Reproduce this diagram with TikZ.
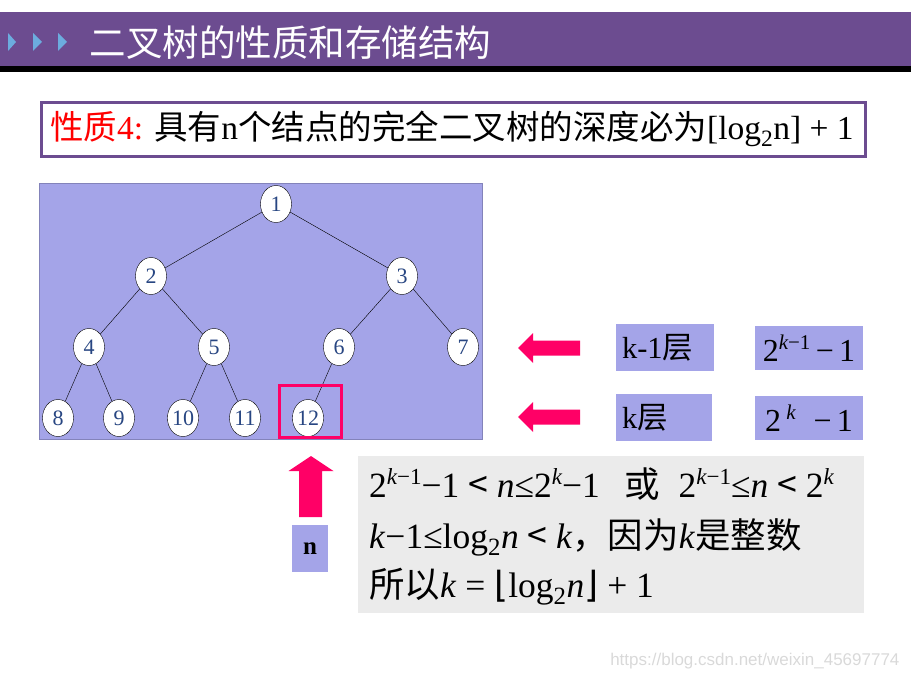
\documentclass[tikz,border=0pt]{standalone}
\usepackage{fontspec}
\setmainfont{Liberation Serif}
\newfontfamily\cjk{Noto Sans CJK SC}
\newfontfamily\symfont{DejaVu Sans}
\newfontfamily\wmfont{Liberation Sans}
\newcommand{\zhtext}[1]{{\cjk #1}}
\newcommand{\supk}[1]{\raisebox{13pt}{\fontsize{23}{23}\selectfont #1}}
\usepackage{tikz}
\usetikzlibrary{shapes.geometric}

\definecolor{barpurple}{RGB}{108,76,144}
\definecolor{lavender}{RGB}{164,164,232}
\definecolor{hotpink}{RGB}{255,0,102}
\definecolor{lightgrey}{RGB}{235,235,235}
\definecolor{tribue}{RGB}{108,172,222}
\definecolor{numblue}{RGB}{40,70,130}

\begin{document}
\begin{tikzpicture}[x=1pt,y=-1pt,
    tnode/.style={ellipse,draw,fill=white,minimum width=31,minimum height=37,inner sep=0pt,
      text=numblue,font=\fontsize{22}{22}\selectfont},
    lbox/.style={fill=lavender,inner sep=0pt,font=\fontsize{30.5}{32}\selectfont}]
    \useasboundingbox (0,0) rectangle (911,677);

    % Title bar
    \fill[barpurple] (0,12) rectangle (911,66);
    \fill[black] (0,66) rectangle (911,72);
    \fill[tribue] (8,33) -- (16,42) -- (8,51) -- cycle;
    \fill[tribue] (33,33) -- (42,42) -- (33,51) -- cycle;
    \fill[tribue] (58,33) -- (67,42) -- (58,51) -- cycle;
    \node[anchor=west,text=white,font=\cjk\fontsize{36.5}{36}\selectfont] (title) at (86,43) {二叉树的性质和存储结构};

    % Property
    \node[draw=barpurple,line width=3pt,minimum width=824,minimum height=54,anchor=north west] (prop) at (39.5,101) {};
    \node[anchor=west,inner sep=0pt,font=\fontsize{33.5}{34}\selectfont] (proptext) at (50,129)
      {{\color{red}\zhtext{性质}4:} \zhtext{具有}n\zhtext{个结点的完全二叉树的深度必为}[log\textsubscript{2}n] + 1};

    % Tree
    \fill[lavender,draw=lavender!80!black,line width=0.4pt] (39,183) rectangle (482,439);
    \node[tnode] (n1) at (276,204) {1};
    \node[tnode] (n2) at (151,276) {2};
    \node[tnode] (n3) at (402,276) {3};
    \node[tnode] (n4) at (89,347) {4};
    \node[tnode] (n5) at (214,347) {5};
    \node[tnode] (n6) at (339,347) {6};
    \node[tnode] (n7) at (463,347) {7};
    \node[tnode] (n8) at (58,418) {8};
    \node[tnode] (n9) at (119,418) {9};
    \node[tnode] (n10) at (183,418) {10};
    \node[tnode] (n11) at (245,418) {11};
    \node[tnode] (n12) at (308,418) {12};
    \draw (n1) -- (n2);
    \draw (n1) -- (n3);
    \draw (n2) -- (n4);
    \draw (n2) -- (n5);
    \draw (n3) -- (n6);
    \draw (n3) -- (n7);
    \draw (n4) -- (n8);
    \draw (n4) -- (n9);
    \draw (n5) -- (n10);
    \draw (n5) -- (n11);
    \draw (n6) -- (n12);
    \draw[hotpink,line width=3.5pt] (279.5,385.5) rectangle (341.5,437.5);

    % Layers
    \fill[hotpink] (518,348) -- (533,333) -- (533,340.5) -- (580,340.5) -- (580,355.5) -- (533,355.5) -- (533,363) -- cycle;
    \fill[hotpink] (518,417) -- (533,402) -- (533,409.5) -- (580,409.5) -- (580,424.5) -- (533,424.5) -- (533,432) -- cycle;
    \node[lbox,minimum width=98,minimum height=47,text width=86,inner xsep=6,align=left] (lay1) at (665,347.5) {k-1\zhtext{层}};
    \node[lbox,minimum width=96,minimum height=47,text width=84,inner xsep=6,align=left] (lay2) at (664,417.5) {k\zhtext{层}};
    \node[lbox,minimum width=108,minimum height=44,font=\fontsize{32}{32}\selectfont] (cnt1) at (809,348)
      {2\raisebox{12pt}{\fontsize{21}{21}\selectfont\itshape k\upshape−1}\,−\,1};
    \node[lbox,minimum width=108,minimum height=44,font=\fontsize{32}{32}\selectfont] (cnt2) at (809,418)
      {2\,\raisebox{12pt}{\fontsize{21}{21}\selectfont\itshape k}\;\;−\,1};

    % n
    \fill[hotpink] (311,456) -- (333.5,471) -- (322,471) -- (322,517) -- (299,517) -- (299,471) -- (288.5,471) -- cycle;
    \node[fill=lavender,minimum width=36,minimum height=47,inner sep=0pt,font=\bfseries\fontsize{25}{25}\selectfont] (nbox) at (310,548.5) {n};

    % Derivation
    \fill[lightgrey] (358,456) rectangle (864,613);
    \begin{scope}[every node/.style={anchor=base west,inner sep=0pt,font=\fontsize{35.5}{36}\selectfont}]
      \node (l1) at (369,497) {2\supk{\itshape k\upshape−1}−1 \zhtext{<} \textit{n}≤2\supk{\itshape k}−1\;\, \zhtext{或}\; 2\supk{\itshape k\upshape−1}≤\textit{n} \zhtext{<} 2\supk{\itshape k}};
      \node (l2) at (369,548) {\textit{k}−1≤log\textsubscript{2}\textit{n} \zhtext{<} \textit{k}\zhtext{，因为}\textit{k}\zhtext{是整数}};
      \node (l3) at (369,597) {\zhtext{所以}\textit{k} = {\symfont\fontsize{36}{36}\selectfont ⌊}log\textsubscript{2}\textit{n}{\symfont\fontsize{36}{36}\selectfont ⌋} + 1};
    \end{scope}

    % Watermark
    \node[anchor=base east,text=black!15,font=\wmfont\fontsize{17}{17}\selectfont] (wm) at (903,665) {https://blog.csdn.net/weixin\_45697774};
\end{tikzpicture}
\end{document}
